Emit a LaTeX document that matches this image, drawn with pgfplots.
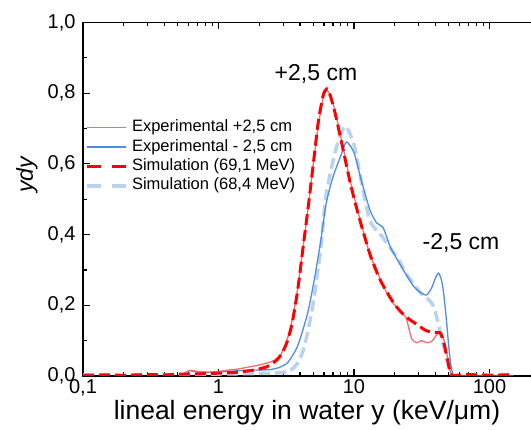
\documentclass[border=0pt]{standalone}
\usepackage{fontspec}
\setmainfont{Liberation Sans}
\usepackage{pgfplots}
\usepackage{pgfplotstable}
\pgfplotsset{compat=1.18}

\definecolor{redexp}{RGB}{240,110,112}
\definecolor{blueexp}{RGB}{80,140,225}
\definecolor{redsim}{RGB}{255,0,0}
\definecolor{bluesim}{RGB}{185,210,240}

\pgfplotstableread{
x y
0.53 0.000
0.58 0.012
0.63 0.016
0.70 0.013
0.80 0.011
0.95 0.012
1.15 0.016
1.40 0.020
1.70 0.026
2.00 0.031
2.30 0.037
2.60 0.045
2.85 0.058
3.05 0.080
3.37 0.130
3.78 0.230
4.23 0.370
4.60 0.480
5.01 0.600
5.46 0.710
5.94 0.790
6.30 0.808
6.70 0.795
7.24 0.750
8.11 0.665
9.34 0.555
10.75 0.462
13.1 0.345
15.6 0.275
18.5 0.217
21.8 0.185
24.2 0.165
25.6 0.130
26.8 0.104
29.0 0.094
31.6 0.100
34.5 0.094
37.5 0.098
40.5 0.115
43.2 0.125
45.5 0.110
47.5 0.080
49.7 0.040
52.0 0.005
54.0 0.000
60.0 0.000
}\redexp

\pgfplotstableread{
x y
0.10 0.002
0.15 0.003
0.20 0.002
0.30 0.004
0.40 0.003
0.50 0.005
0.70 0.006
1.00 0.008
1.30 0.010
1.70 0.015
2.00 0.020
2.30 0.027
2.60 0.040
2.90 0.060
3.20 0.095
3.50 0.150
3.85 0.245
4.23 0.370
4.60 0.480
5.01 0.600
5.46 0.720
5.94 0.795
6.30 0.812
6.70 0.792
7.24 0.745
8.11 0.660
9.34 0.550
10.75 0.458
13.1 0.345
15.6 0.272
18.5 0.222
20.6 0.196
23.0 0.175
25.9 0.159
30.7 0.140
33.4 0.130
38.0 0.123
43.2 0.122
46.0 0.095
48.5 0.055
51.0 0.015
53.0 0.002
70.0 0.004
100 0.002
150 0.004
}\redsim

\pgfplotstableread{
x y
0.53 0.000
0.60 0.014
0.70 0.012
0.87 0.010
1.20 0.013
1.55 0.016
2.00 0.017
2.40 0.018
2.80 0.024
3.24 0.038
3.84 0.085
4.55 0.178
5.09 0.272
5.70 0.385
6.21 0.485
6.96 0.560
8.02 0.625
8.80 0.662
10.0 0.632
11.3 0.555
13.1 0.470
14.7 0.433
16.4 0.420
18.5 0.366
20.6 0.333
23.1 0.300
27.4 0.255
31.0 0.236
34.4 0.229
37.5 0.250
40.0 0.278
42.0 0.291
44.0 0.275
45.7 0.240
47.8 0.170
49.6 0.100
51.5 0.040
53.5 0.008
57.0 0.000
150 0.000
}\blueexp

\pgfplotstableread{
x y
0.10 0.003
0.20 0.002
0.30 0.004
0.50 0.003
0.80 0.005
1.20 0.006
1.80 0.007
2.50 0.008
3.00 0.010
3.43 0.017
3.90 0.040
4.30 0.083
4.70 0.150
5.09 0.225
5.70 0.366
6.21 0.508
7.16 0.625
8.00 0.685
8.73 0.706
10.0 0.655
11.2 0.560
13.1 0.440
16.1 0.395
18.2 0.366
21.4 0.329
24.1 0.291
28.5 0.253
31.1 0.234
35.8 0.215
38.9 0.196
41.2 0.159
44.8 0.102
48.8 0.045
53.2 0.002
80.0 0.003
150 0.002
}\bluesim

\begin{document}
\begin{tikzpicture}
\path[use as bounding box] (-83pt,-54pt) rectangle (448pt,376pt);
\begin{axis}[
  scale only axis,
  width=460.4pt, height=353.5pt,
  xmode=log, xmin=0.1, xmax=250, ymin=0, ymax=1,
  axis line style={line width=1.5pt},
  every tick/.style={black, line width=1.2pt},
  major tick length=7pt, minor tick length=4pt,
  tick align=inside,
  xtick={0.1,1,10,100}, xticklabels={{0,1},1,10,100},
  ytick={0,0.2,0.4,0.6,0.8,1.0}, minor y tick num=1,
  yticklabel style={/pgf/number format/.cd, use comma, fixed, fixed zerofill, precision=1, /tikz/.cd, xshift=-4pt},
  /pgf/number format/assume math mode=true,
  tick label style={font=\fontsize{20}{24}\selectfont},
  xlabel={lineal energy in water y (keV/μm)},
  ylabel={\itshape ydy},
  every axis x label/.style={at={(axis description cs:0.4865,-0.1047)}, anchor=center, font=\fontsize{26.5}{30}\selectfont},
  every axis y label/.style={at={(axis description cs:-0.1216,0.569)}, rotate=90, anchor=center, font=\fontsize{23}{27}\selectfont},
  legend cell align=left,
  legend style={at={(axis description cs:0.004,0.7298)}, anchor=north west, draw=none, fill=none,
    inner sep=0pt, row sep=0.4pt, column sep=3pt,
    font=\fontsize{16.5}{19.5}\selectfont,
    nodes={inner sep=1.5pt, text depth=4pt, text height=12pt, font=\fontsize{16.5}{19.5}\selectfont}},
  legend image code/.code={\draw[#1] (0pt,0pt) -- (39pt,0pt);},
]
\addlegendimage{redexp, line width=1.3pt}
\addlegendentry{Experimental +2,5 cm}
\addlegendimage{blueexp, line width=1.3pt}
\addlegendentry{Experimental - 2,5 cm}
\addlegendimage{redsim, line width=3pt, dash pattern=on 14pt off 11pt}
\addlegendentry{Simulation (69,1 MeV)}
\addlegendimage{bluesim, line width=3.5pt, dash pattern=on 14pt off 11pt}
\addlegendentry{Simulation (68,4 MeV)}

\addplot[forget plot, bluesim, line width=3.5pt, dash pattern=on 11pt off 5pt, smooth, tension=0.4] table[x=x,y=y] {\bluesim};
\addplot[forget plot, blueexp, line width=1.3pt, smooth, tension=0.4] table[x=x,y=y] {\blueexp};
\addplot[forget plot, redexp, line width=1.3pt, smooth, tension=0.4] table[x=x,y=y] {\redexp};
\addplot[forget plot, redsim, line width=3pt, dash pattern=on 11pt off 5pt, smooth, tension=0.4] table[x=x,y=y] {\redsim};

\node[font=\fontsize{23}{27}\selectfont] at (axis cs:5.24,0.854) {+2,5 cm};
\node[font=\fontsize{23}{27}\selectfont] at (axis cs:61.7,0.376) {-2,5 cm};
\end{axis}
\end{tikzpicture}
\end{document}
